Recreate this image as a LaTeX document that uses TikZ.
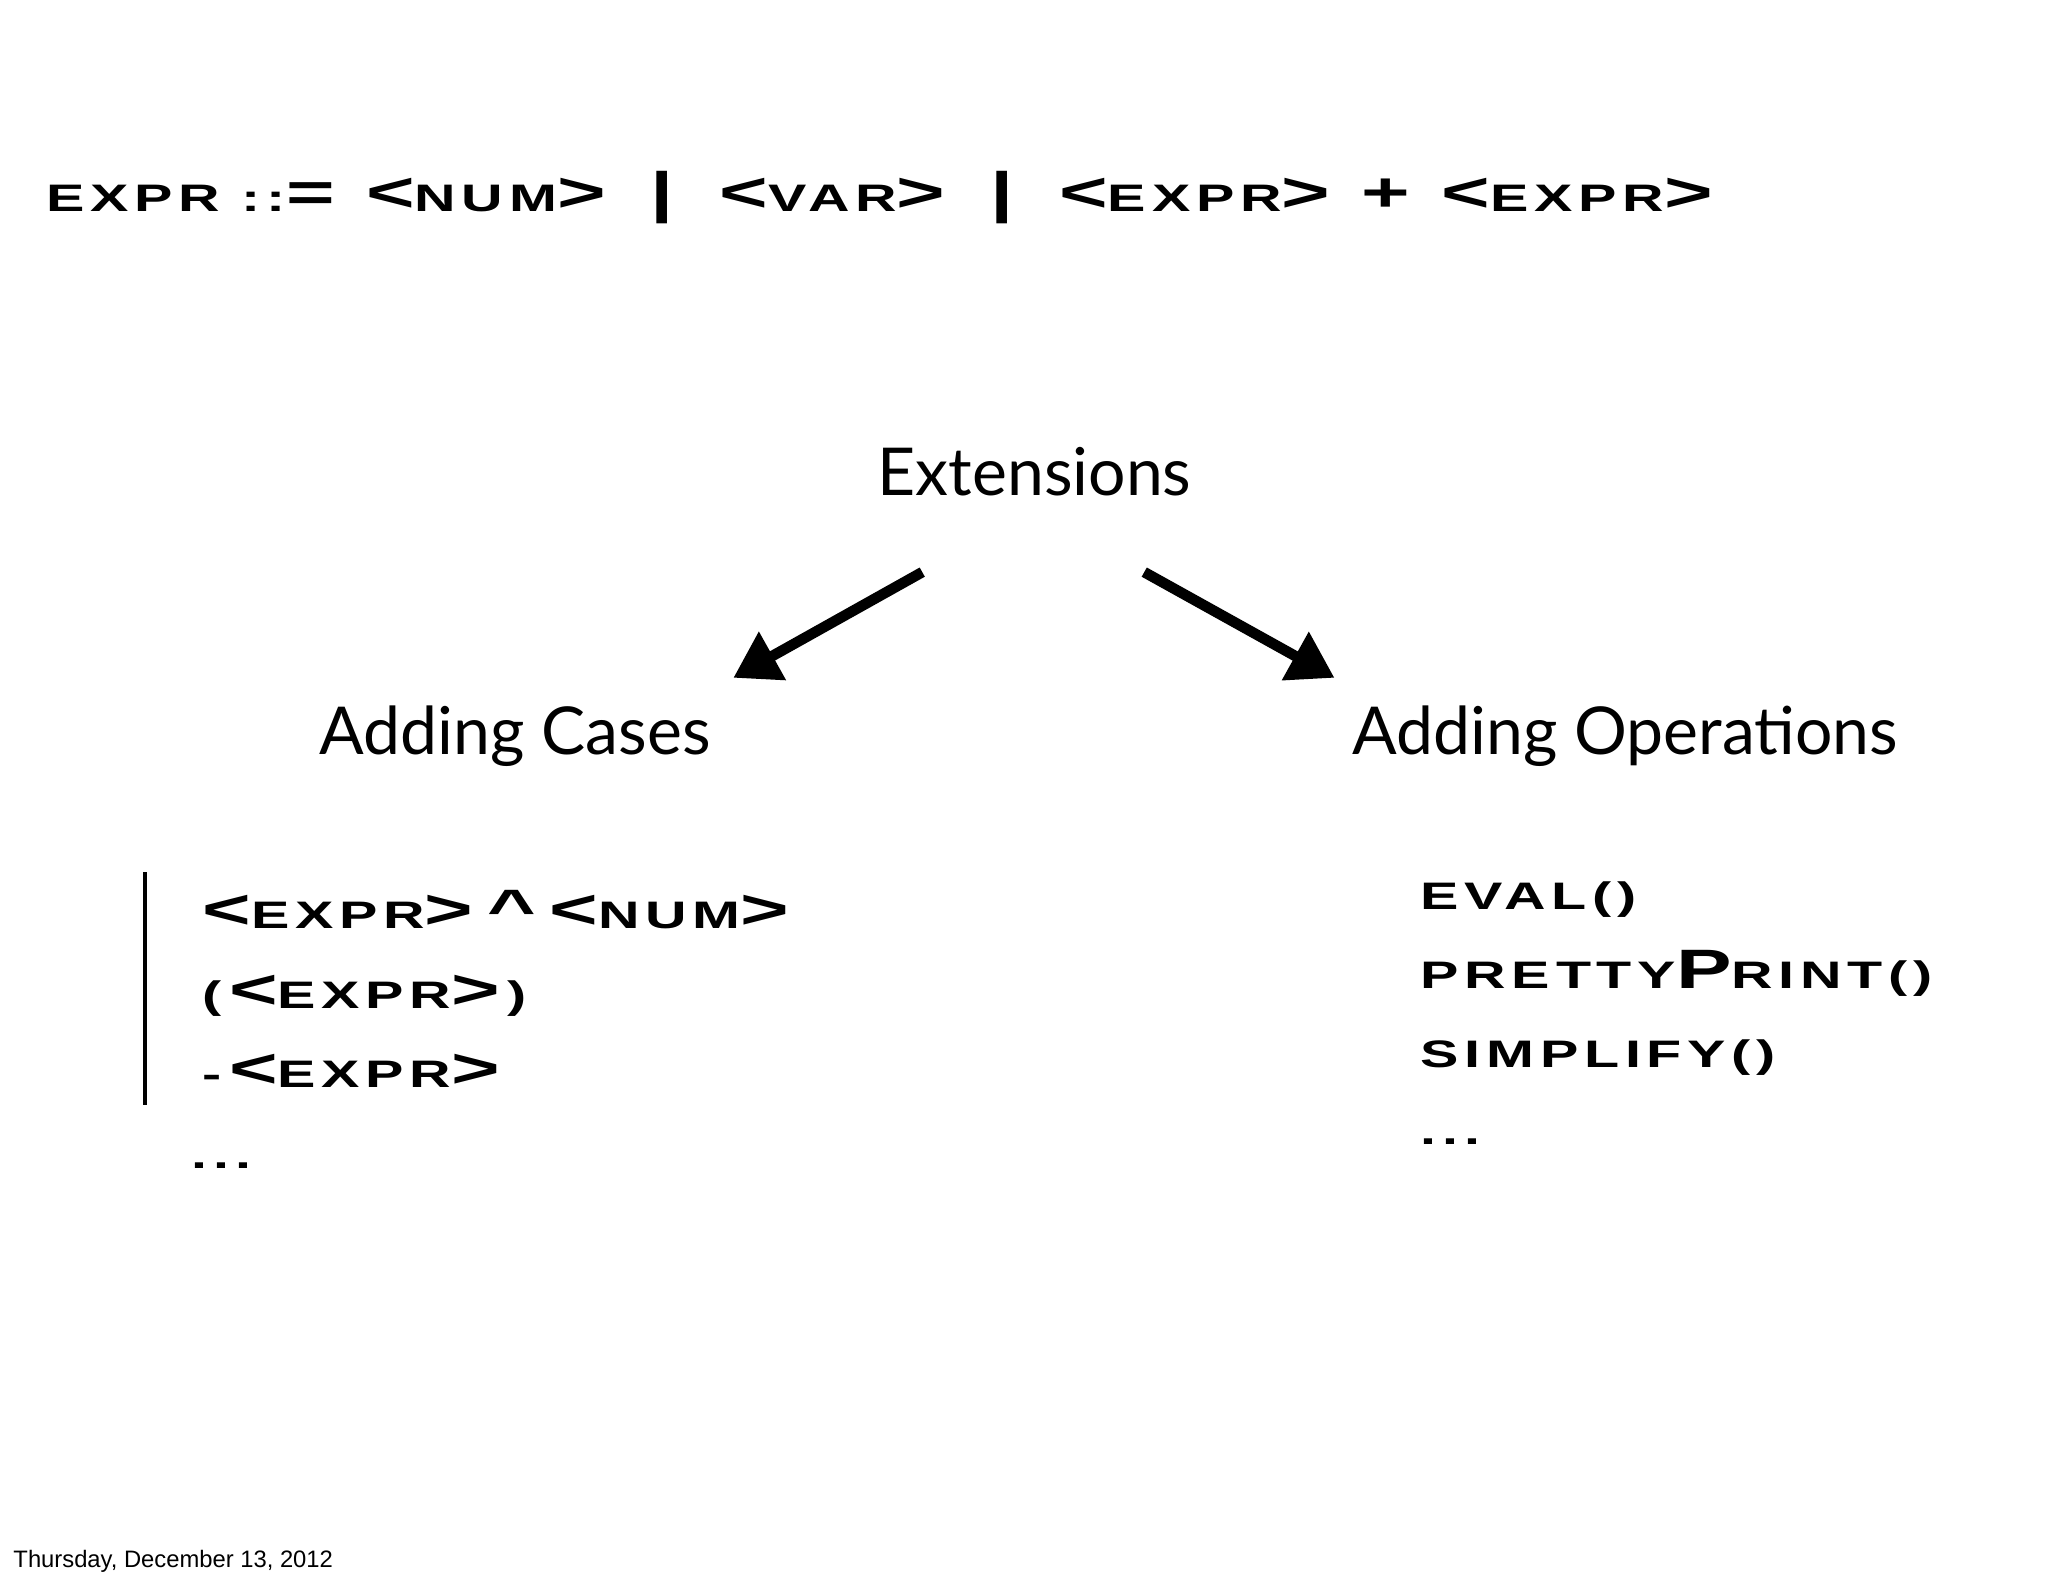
\documentclass[tikz,border=0pt]{standalone}
\usepackage{fontspec}
\usepackage{graphicx}
\setmainfont{Lato}
\newfontfamily\cp[LetterSpace=10]{Liberation Sans Bold}
\newfontfamily\ft{Liberation Sans}
\usetikzlibrary{arrows.meta}
\newcommand{\sm}[1]{{\fontsize{29}{30}\selectfont #1}}
\newcommand{\bg}[1]{{\fontsize{42}{42}\selectfont\mdseries #1}}
\newcommand{\widen}[1]{\scalebox{1.5}[1]{#1}}
\tikzset{
  gill/.style={font=\fontsize{50}{54}\selectfont, inner sep=0pt},
  cop/.style={font=\cp, anchor=base west, inner sep=0pt},
  bigarrow/.style={line width=8pt, -{Triangle[length=34pt,width=40pt]}},
  bar/.style={line width=3pt}
}
\begin{document}
\begin{tikzpicture}[x=1pt,y=-1pt]
\useasboundingbox (0,0) rectangle (1550,1193);
\node[cop] (grammar) at (35,160) {\widen{\sm{EXPR ::}\bg{= <}\sm{NUM}\bg{> \,|\, <}\sm{VAR}\bg{> \,|\, <}\sm{EXPR}\bg{> + <}\sm{EXPR}\bg{>}}};
\node[gill] (ext) at (783,357) {Extensions};
\node[gill] (cases) at (390,557) {Adding Cases};
\node[gill] (ops) at (1230,557) {Adding Operations};
\coordinate (a1s) at (698,433); \coordinate (a1e) at (555,513);
\coordinate (a2s) at (866,433); \coordinate (a2e) at (1010,513);
\draw[bigarrow] (a1s) -- (a1e);
\draw[bigarrow] (a2s) -- (a2e);
\coordinate (bt) at (110,660); \coordinate (bb) at (110,836);
\draw[bar] (bt) -- (bb);
\node[cop] (c1) at (153,703) {\widen{\bg{<}\sm{EXPR}\bg{>\,\^{}\,<}\sm{NUM}\bg{>}}};
\node[cop] (c2) at (153,763) {\widen{\sm{(} \bg{<}\sm{EXPR}\bg{>} \sm{)}}};
\node[cop] (c3) at (153,823) {\widen{\sm{-} \bg{<}\sm{EXPR}\bg{>}}};
\node[cop] (c4) at (145,884) {\widen{\sm{...}}};
\node[cop] (o1) at (1075,688) {\widen{\sm{EVAL()}}};
\node[cop] (o2) at (1075,748) {\widen{\sm{PRETTY}\bg{\bfseries P}\sm{RINT()}}};
\node[cop] (o3) at (1075,808) {\widen{\sm{SIMPLIFY()}}};
\node[cop] (o4) at (1075,866) {\widen{\sm{...}}};
\node[font=\ft\fontsize{18}{18}\selectfont, anchor=base west, inner sep=0pt] (date) at (10,1186) {Thursday, December 13, 2012};
\end{tikzpicture}
\end{document}
